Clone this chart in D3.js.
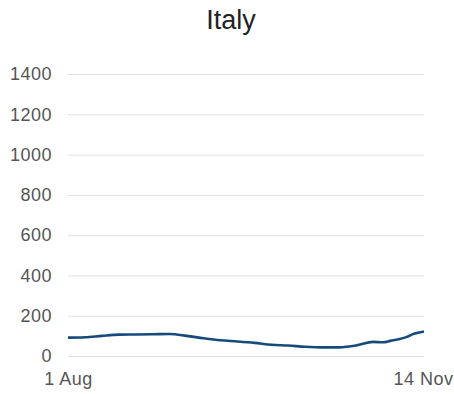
<!DOCTYPE html>
<html>
<head>
<meta charset="utf-8">
<script src="https://cdn.jsdelivr.net/npm/d3@7"></script>
<style>
  html, body { margin: 0; padding: 0; background: #fff; }
  svg { display: block; font-family: "Liberation Sans", Arial, sans-serif; }
</style>
</head>
<body>
<svg id="chart" width="454" height="394"></svg>
<script>
const title = "Italy";
const dayOffsets = [0, 5, 10, 15, 20, 25, 30, 35, 40, 45, 50, 55, 60, 65, 70, 75, 80, 85, 90, 93, 95, 100, 102, 105];
const values =     [91, 93, 100, 106, 107, 108, 109, 100, 88, 78, 72, 65, 56, 52, 46, 43, 43, 52, 70, 68, 75, 95, 110, 122];
const yTicks = [0, 200, 400, 600, 800, 1000, 1200, 1400];
const xTickLabels = ["1 Aug", "14 Nov"];

(function () {
const startDate = new Date(2020, 7, 1);
const endDate = new Date(2020, 10, 14);
const data = dayOffsets.map((d, i) => ({ date: d3.timeDay.offset(startDate, d), value: values[i] }));

const svg = d3.select("#chart");
const mLeft = 68, mRight = 424, mTop = 74, mBottom = 356;

const x = d3.scaleTime().domain([startDate, endDate]).range([mLeft, mRight]);
const y = d3.scaleLinear().domain([0, 1400]).range([mBottom, mTop]);

svg.append("text")
  .attr("x", 231).attr("y", 29)
  .attr("text-anchor", "middle")
  .attr("font-size", 27)
  .attr("fill", "#222")
  .text(title);

const labelFont = sel => sel
  .attr("font-size", 18)
  .attr("letter-spacing", "0.5px")
  .attr("fill", "#555")
  .attr("font-family", "Liberation Sans, Arial, sans-serif");

const yAxis = d3.axisLeft(y).tickValues(yTicks).tickSize(-(mRight - mLeft)).tickPadding(16).tickFormat(d3.format("d"));
const gy = svg.append("g").attr("transform", `translate(${mLeft},0)`).call(yAxis);
gy.select(".domain").remove();
gy.selectAll(".tick line").attr("stroke", "#e0e0e0").attr("stroke-width", 1);
gy.selectAll(".tick text").call(labelFont);

const xAxis = d3.axisBottom(x).tickValues([startDate, endDate]).tickSize(0).tickPadding(16)
  .tickFormat((d, i) => xTickLabels[i]);
const gx = svg.append("g").attr("transform", `translate(0,${mBottom})`).call(xAxis);
gx.select(".domain").remove();
gx.selectAll(".tick text").call(labelFont);
gx.selectAll(".tick text").filter((d, i) => i === 1).attr("text-anchor", "end").attr("dx", 29);

const line = d3.line().x(d => x(d.date)).y(d => y(d.value)).curve(d3.curveMonotoneX);
svg.append("path")
  .datum(data)
  .attr("fill", "none")
  .attr("stroke", "#174a7c")
  .attr("stroke-width", 2.6)
  .attr("stroke-linejoin", "round")
  .attr("d", line);
})();
</script>
</body>
</html>
